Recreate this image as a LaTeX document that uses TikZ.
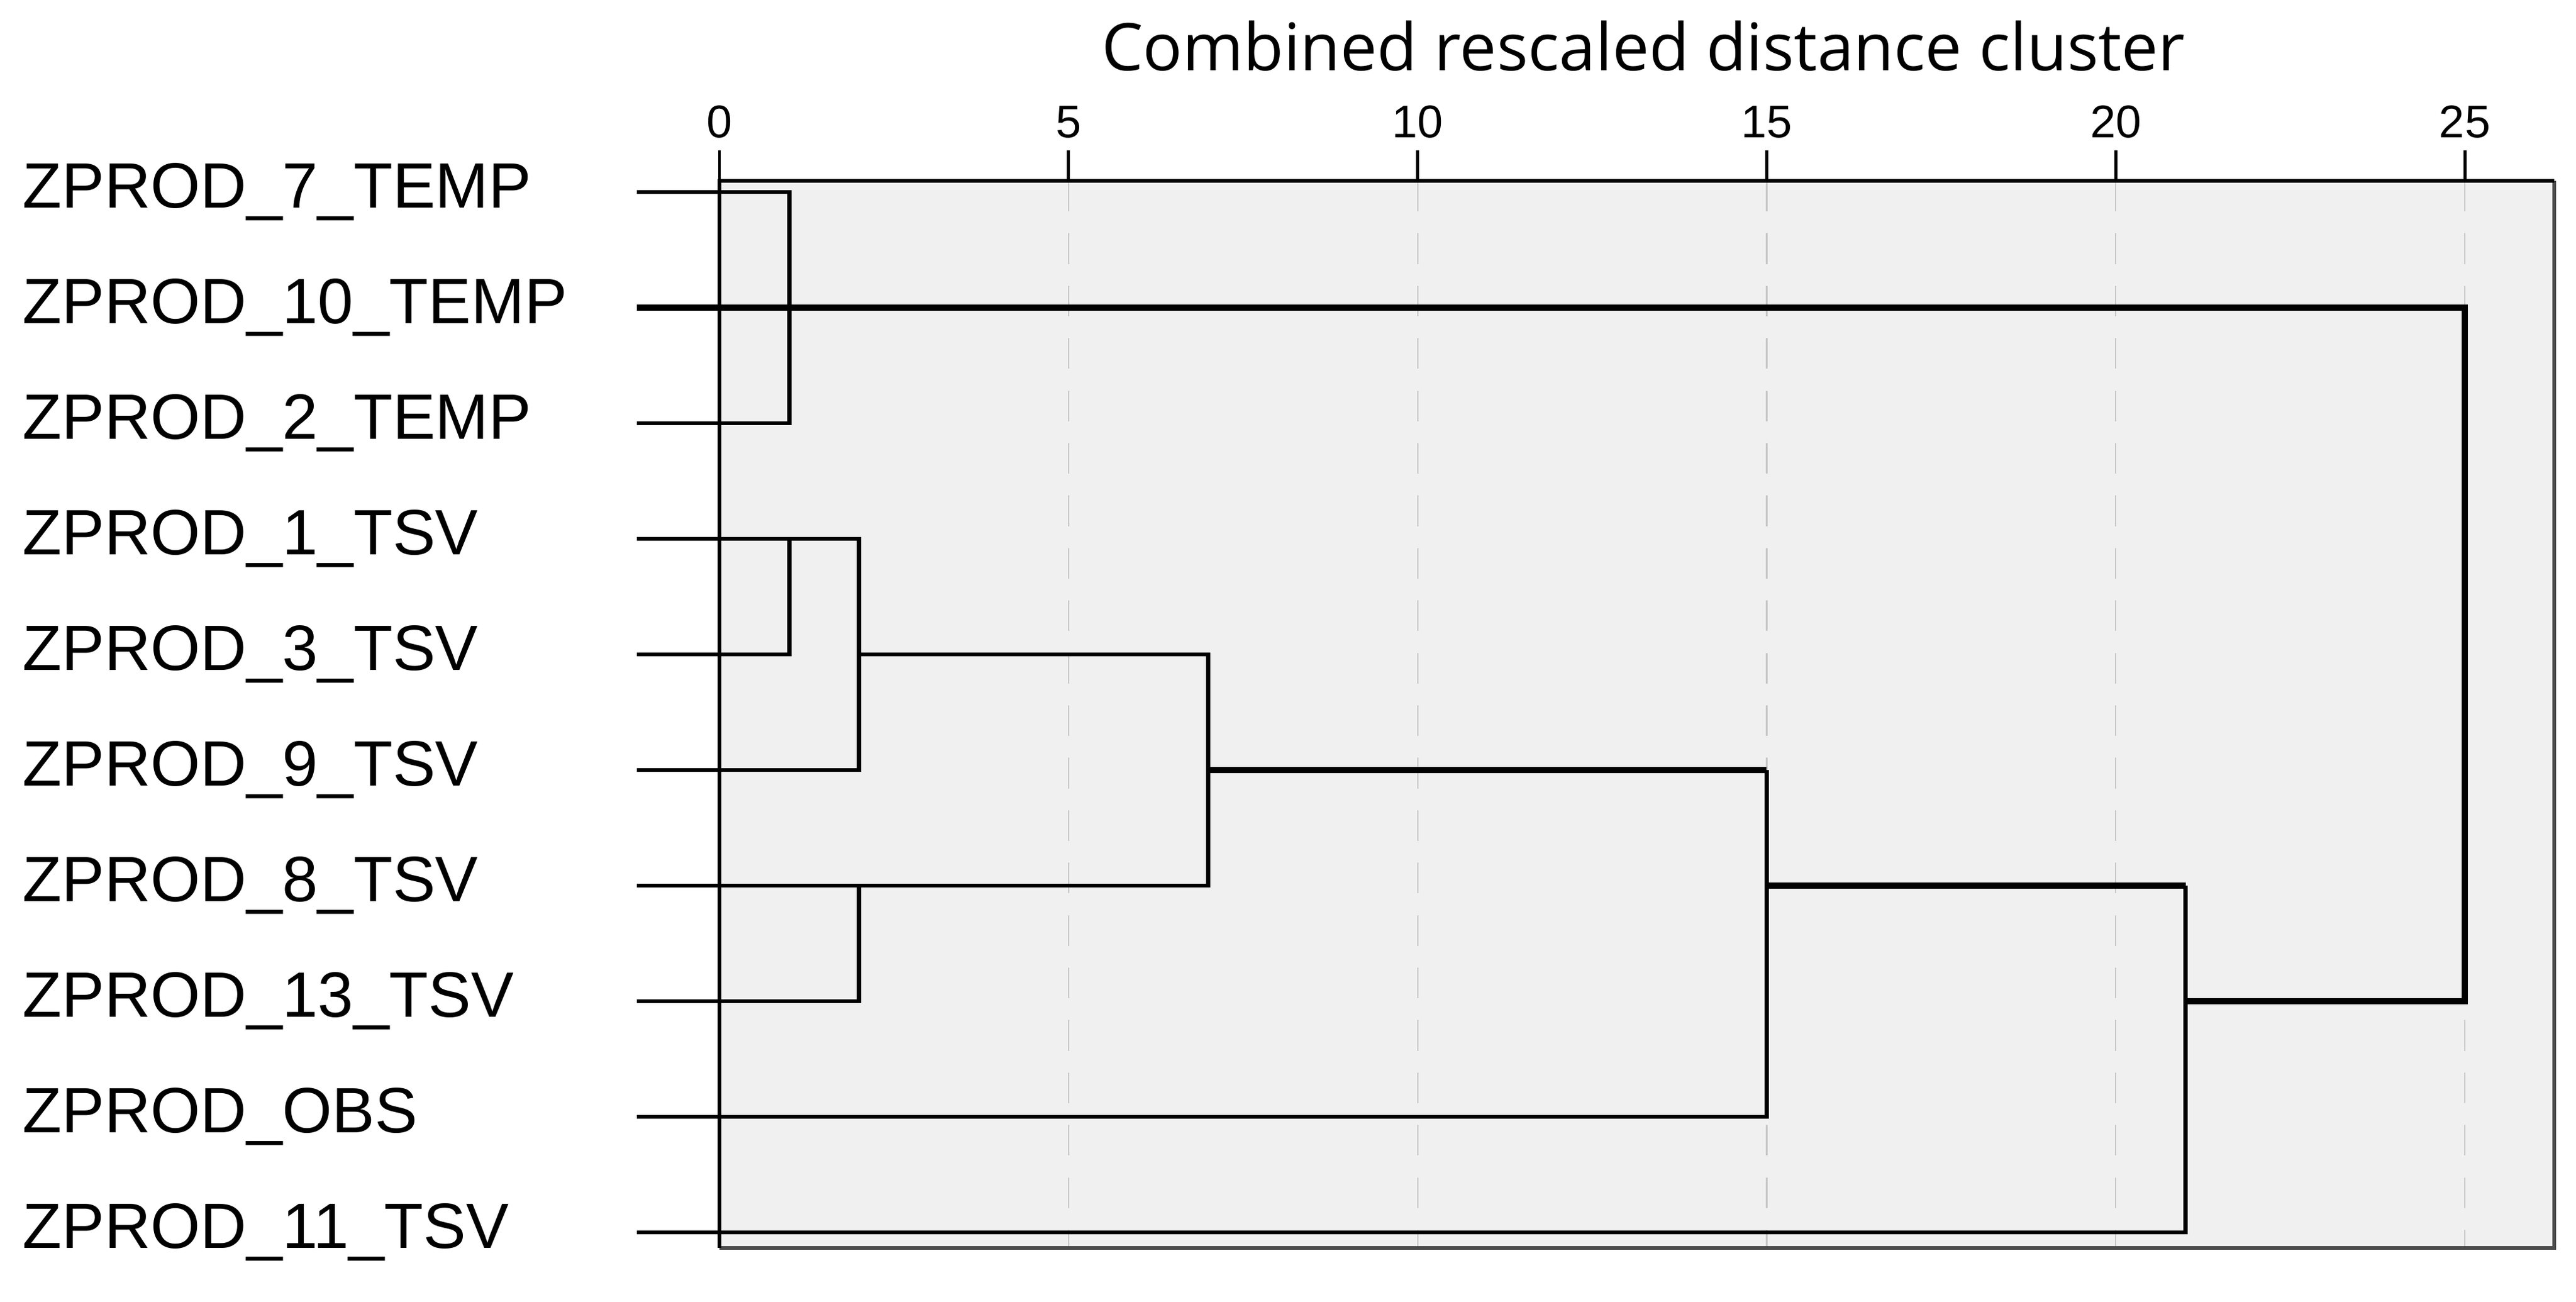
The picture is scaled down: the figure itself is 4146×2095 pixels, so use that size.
\documentclass[tikz,border=0pt]{standalone}
\usepackage{fontspec}
\setmainfont{Liberation Sans}
\newfontfamily\titlefont{Open Sans}
\begin{document}
\begin{tikzpicture}[x=0.01cm,y=-0.01cm,
  lab/.style={anchor=west,inner sep=0,font=\fontsize{29.3}{32}\selectfont},
  tick/.style={anchor=center,inner sep=0,font=\fontsize{21}{24}\selectfont},
  br/.style={line width=1.9pt,black},
  thick br/.style={line width=2.8pt,black},
  grid/.style={gray!45,dashed,dash pattern=on 14pt off 10pt,line width=0.6pt}]
\useasboundingbox (0,0) rectangle (4146,2095);
\def\u{112.36}
% background
\fill[gray!12] (1158,291) rectangle (4111,2008);
\foreach \d in {5,10,15,20,25}{\draw[grid] ({1158+\d*\u},291) -- ({1158+\d*\u},2008);}
\draw[gray!60!black,line width=1.6pt] (4111,291) -- (4111,2008) -- (1158,2008);
\draw[line width=1.6pt] (1158,2008) -- (1158,291) -- (4111,291);
\foreach \d in {0,5,10,15,20,25}{
  \draw[line width=1.4pt] ({1158+\d*\u},242) -- ({1158+\d*\u},291);
  \node[tick] (t\d) at ({1158+\d*\u},196) {\d};}
\node[inner sep=0,font=\titlefont\fontsize{30}{33}\selectfont] (title) at (2645,74) {Combined rescaled distance cluster};
% labels
\foreach \n/\t in {0/ZPROD\_7\_TEMP,1/ZPROD\_10\_TEMP,2/ZPROD\_2\_TEMP,3/ZPROD\_1\_TSV,4/ZPROD\_3\_TSV,5/ZPROD\_9\_TSV,6/ZPROD\_8\_TSV,7/ZPROD\_13\_TSV,8/ZPROD\_OBS,9/ZPROD\_11\_TSV}{
  \node[lab] (l\n) at (36,{309+186*\n}) {\t};
  \coordinate (r\n) at (1025,{309+186*\n});}
\def\X#1{{1158+#1*\u}}
% tree
\draw[br] (r0) -- (\X{1},309) -- (\X{1},681) -- (r2);
\draw[thick br] (r1) -- (\X{25},495) -- (\X{25},1611) -- (\X{21},1611);
\draw[br] (r3) -- (\X{2},867) -- (\X{2},1239) -- (r5);
\draw[br] (r4) -- (\X{1},1053) -- (\X{1},867);
\draw[br] (\X{2},1053) -- (\X{7},1053) -- (\X{7},1425) -- (r6);
\draw[br] (\X{2},1425) -- (\X{2},1611) -- (r7);
\draw[thick br] (\X{7},1239) -- (\X{15},1239);
\draw[br] (\X{15},1239) -- (\X{15},1797) -- (r8);
\draw[thick br] (\X{15},1425) -- (\X{21},1425);
\draw[br] (\X{21},1425) -- (\X{21},1983) -- (r9);
\end{tikzpicture}
\end{document}
